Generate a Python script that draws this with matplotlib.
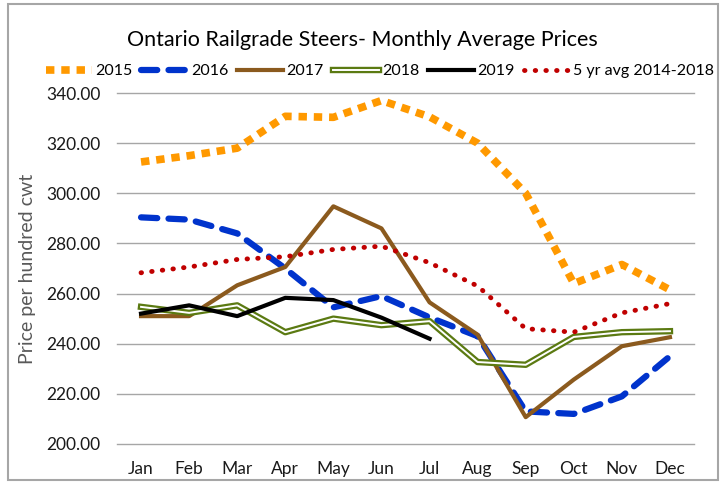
import matplotlib
matplotlib.use("Agg")
import matplotlib.pyplot as plt
import matplotlib.patheffects as pe
from matplotlib.patches import Rectangle

plt.rcParams['font.family'] = ['Lato', 'DejaVu Sans']

months = ['Jan', 'Feb', 'Mar', 'Apr', 'May', 'Jun', 'Jul', 'Aug', 'Sep', 'Oct', 'Nov', 'Dec']
y2015 = [312.5, 315.0, 318.0, 330.7, 330.3, 337.0, 330.5, 320.0, 300.0, 264.0, 271.6, 261.5]
y2016 = [290.4, 289.5, 284.0, 270.0, 254.5, 259.0, 250.5, 243.0, 213.0, 212.0, 219.0, 235.0]
y2017 = [251.0, 251.0, 263.3, 270.6, 294.8, 286.0, 256.5, 243.6, 210.7, 225.7, 239.0, 242.6]
y2018 = [254.7, 252.3, 255.3, 244.6, 250.0, 247.4, 249.0, 232.7, 231.6, 242.7, 244.6, 245.0]
y2019 = [252.0, 255.3, 251.0, 258.3, 257.4, 250.4, 242.0]
y5avg = [268.3, 270.6, 273.6, 274.7, 277.6, 278.9, 272.3, 263.0, 246.0, 244.6, 252.3, 256.0]
yticks = [200, 220, 240, 260, 280, 300, 320, 340]

fig = plt.figure(figsize=(7.27, 4.82), dpi=100)
fig.patches.append(Rectangle((8/727, 1-480/482), 710/727, 476/482, transform=fig.transFigure,
                             fill=False, edgecolor='#A6A6A6', lw=1.5))
ax = fig.add_axes([117/727, 1-444/482, 577/727, 351/482])

x = list(range(12))
ax.plot(x, y2015, color='#FF9900', lw=5.5, linestyle=(0, (1.1, 0.9)), solid_capstyle='butt',
        dash_capstyle='butt', label='2015')
ax.plot(x, y2016, color='#0033CC', lw=4.5, linestyle=(0, (2.6, 1.8)), dash_capstyle='round', label='2016')
ax.plot(x, y2017, color='#8B5A1E', lw=3, label='2017')
ax.plot(x, y2018, color='white', lw=1.4, label='2018',
        path_effects=[pe.Stroke(linewidth=4.6, foreground='#5B7A12'), pe.Normal()])
ax.plot(x[:len(y2019)], y2019, color='black', lw=3, label='2019')
ax.plot(x, y5avg, color='#C00000', lw=3.5, linestyle=(0, (0.1, 2.1)), dash_capstyle='round',
        label='5 yr avg 2014-2018')

ax.set_xlim(-0.5, 11.5)
ax.set_ylim(200, 340)
ax.set_yticks(yticks)
ax.set_yticklabels([f'{v:.2f}' for v in yticks], fontsize=12.5, color='#1a1a1a')
ax.set_xticks(x)
ax.set_xticklabels(months, fontsize=12.5, color='#1a1a1a')
ax.tick_params(length=0, pad=12, axis='y')
ax.tick_params(length=0, pad=12, axis='x')
ax.grid(axis='y', color='#A6A6A6', lw=1)
for gl in ax.get_ygridlines():
    gl.set_clip_on(False)
ax.set_axisbelow(True)
for s in ax.spines.values():
    s.set_visible(False)
ax.set_ylabel('Price per hundred cwt', fontsize=14, color='#595959', labelpad=7)

fig.text(362/727, 1-40/482, 'Ontario Railgrade Steers- Monthly Average Prices', ha='center', va='center',
         fontsize=15.5, color='black')
fig.legend(loc='center', bbox_to_anchor=(380/727, 1-71/482), ncol=6, frameon=False, fontsize=11.5,
           handlelength=2.9, handletextpad=0.2, columnspacing=0.55)

fig.savefig('out.png', dpi=100)
